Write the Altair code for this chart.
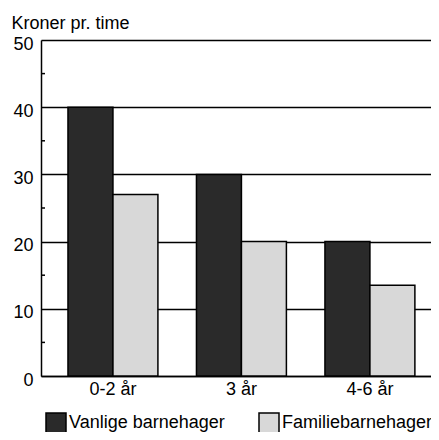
import altair as alt
import pandas as pd

categories = ["0-2 år", "3 år", "4-6 år"]
series_names = ["Vanlige barnehager", "Familiebarnehager"]
vanlige = [40, 30, 20]
familie = [27, 20, 13.5]
minor_ticks = [5, 15, 25, 35, 45]
y_ticks = [0, 10, 20, 30, 40, 50]

rows = []
for c, v in zip(categories, vanlige):
    rows.append({"kategori": c, "type": series_names[0], "verdi": v})
for c, v in zip(categories, familie):
    rows.append({"kategori": c, "type": series_names[1], "verdi": v})
df = pd.DataFrame(rows)
minor_df = pd.DataFrame({"v": minor_ticks})

FONT = "Liberation Sans, Arial, Helvetica, sans-serif"

yscale = alt.Scale(domain=[0, 50], nice=False)

bars = alt.Chart(df).mark_bar(stroke="black", strokeWidth=1.5).encode(
    x=alt.X("kategori:N", sort=categories,
            scale=alt.Scale(paddingInner=0.3, paddingOuter=0.1677, align=0.626),
            axis=alt.Axis(title=None, labelAngle=0, ticks=False, labelPadding=4,
                          domainColor="black", domainWidth=1.5, labelFontSize=18,
                          labelColor="black", labelFont=FONT)),
    xOffset=alt.XOffset("type:N", sort=series_names, scale=alt.Scale(paddingInner=0, paddingOuter=0)),
    y=alt.Y("verdi:Q", scale=yscale,
            axis=alt.Axis(title="Kroner pr. time", values=y_ticks, ticks=False,
                          labelPadding=8, labelOffset=4, labelFontSize=18,
                          labelColor="black", labelFont=FONT,
                          grid=True, gridColor="black", gridWidth=1.5, gridOpacity=1,
                          domainColor="black", domainWidth=1.5,
                          titleAngle=0, titleAlign="left", titleBaseline="alphabetic",
                          titleX=-30, titleY=-12, titleFontSize=18, titleFontWeight="normal",
                          titleColor="black", titleFont=FONT)),
    fill=alt.Fill("type:N", sort=series_names,
                  scale=alt.Scale(domain=series_names, range=["#2a2a2a", "#d8d8d8"]),
                  legend=alt.Legend(title=None, orient="none", legendX=4, legendY=372,
                                    direction="horizontal", columns=2, columnPadding=31,
                                    symbolType="square", symbolSize=400,
                                    symbolStrokeColor="black", symbolStrokeWidth=1.5,
                                    labelOffset=2, labelFontSize=18, labelColor="black",
                                    labelFont=FONT, padding=0, labelLimit=300)),
)

minor = alt.Chart(minor_df).mark_rule(color="black", strokeWidth=1.5).encode(
    y=alt.Y("v:Q", scale=yscale),
    x=alt.value(0),
    x2=alt.value(4),
)

chart = alt.layer(bars, minor).properties(
    width=390,
    height=336,
    autosize=alt.AutoSizeParams(type="none"),
    padding={"left": 33, "top": 32, "right": 0, "bottom": 56},
).configure_view(stroke=None).configure(background="white")

chart.save("out.html", embed_options={"renderer": "svg", "actions": False})
